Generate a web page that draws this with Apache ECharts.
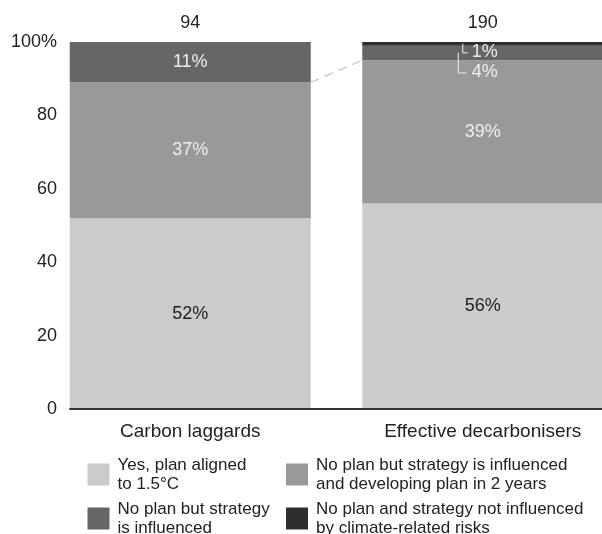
<!DOCTYPE html>
<html>
<head>
<meta charset="utf-8">
<script src="https://cdn.jsdelivr.net/npm/echarts@6/dist/echarts.min.js"></script>
<style>html,body{margin:0;padding:0;background:#fff;}#c{width:602px;height:534px;}</style>
</head>
<body>
<div id="c"></div>
<script>
var categories = ['Carbon laggards', 'Effective decarbonisers'];
var counts = ['94', '190'];
var seriesNames = ['Yes, plan aligned to 1.5°C', 'No plan but strategy is influenced and developing plan in 2 years', 'No plan but strategy is influenced', 'No plan and strategy not influenced by climate-related risks'];
var legendLines = [['Yes, plan aligned', 'to 1.5°C'], ['No plan but strategy is influenced', 'and developing plan in 2 years'], ['No plan but strategy', 'is influenced'], ['No plan and strategy not influenced', 'by climate-related risks']];
var alignedVals = [52, 56];
var developingVals = [37, 39];
var influencedVals = [11, 4];
var notInfluencedVals = [0, 1];
var yTicks = [0, 20, 40, 60, 80, 100];
var colors = ['#cbcbcb', '#999999', '#666666', '#2e2e2e'];

var FONT = 'Liberation Sans, Arial, sans-serif';
var BAR_W = 241;
var chart = echarts.init(document.getElementById('c'), null, {renderer: 'canvas'});

function barSeries(i, vals, labelColor, hideIdx) {
  return {
    name: seriesNames[i], type: 'bar', stack: 'all', xAxisIndex: 0, yAxisIndex: 0,
    barWidth: BAR_W, itemStyle: {color: colors[i]},
    label: {show: true, position: 'inside', formatter: '{c}%', color: labelColor, fontSize: 18, fontFamily: FONT},
    data: vals.map(function (v, k) {
      return hideIdx.indexOf(k) >= 0 ? {value: v, label: {show: false}} : v;
    })
  };
}

function legendFor(i, left, top) {
  return {
    data: [seriesNames[i]], left: left, top: top, padding: 0, selectedMode: false,
    itemWidth: 22, itemHeight: 22, icon: 'rect', orient: 'vertical',
    formatter: function () { return legendLines[i].join('\n'); },
    textStyle: {fontSize: 17, lineHeight: 19, color: '#222', fontFamily: FONT, padding: [0, 0, 6, 3]}
  };
}

var option = {
  animation: false,
  backgroundColor: '#fff',
  textStyle: {fontFamily: FONT},
  grid: [
    {left: 44, width: 585, top: 42, height: 367, outerBoundsMode: 'none', containLabel: false},
    {left: 70, right: 0, top: 42, height: 367, outerBoundsMode: 'none', containLabel: false}
  ],
  legend: [legendFor(0, 87.5, 452.5), legendFor(1, 286, 452.5), legendFor(2, 87.5, 496.5), legendFor(3, 286, 496.5)],
  xAxis: [
    {type: 'category', gridIndex: 0, data: categories, axisLine: {show: false}, axisTick: {show: false},
     axisLabel: {fontSize: 19, color: '#222', margin: 13, fontFamily: FONT}},
    {type: 'category', gridIndex: 0, position: 'top', data: counts, axisLine: {show: false}, axisTick: {show: false},
     axisLabel: {fontSize: 18, color: '#222', margin: 10, fontFamily: FONT}},
    {type: 'category', gridIndex: 1, data: [''], z: 10, axisLine: {show: true, lineStyle: {color: '#333', width: 2}},
     axisTick: {show: false}, axisLabel: {show: false}}
  ],
  yAxis: [
    {type: 'value', gridIndex: 0, min: 0, max: 100, show: false},
    {type: 'value', gridIndex: 1, min: 0, max: 100, interval: 20, axisLine: {show: false}, axisTick: {show: false},
     splitLine: {show: false},
     axisLabel: {fontSize: 18, color: '#222', margin: 13, fontFamily: FONT,
       formatter: function (v) { return v === 100 ? '100%' : String(v); }}}
  ],
  series: [
    barSeries(0, alignedVals, '#222', []),
    barSeries(1, developingVals, '#eeeeee', []),
    barSeries(2, influencedVals, '#eeeeee', [1]),
    barSeries(3, notInfluencedVals, '#eeeeee', [0, 1]),
    {
      type: 'custom', xAxisIndex: 0, yAxisIndex: 0, silent: true, z: 5,
      data: [[0]],
      renderItem: function (params, api) {
        var topDev0 = alignedVals[0] + developingVals[0];
        var topDev1 = alignedVals[1] + developingVals[1];
        var p1 = api.coord([0, topDev0]);
        var p2 = api.coord([1, topDev1]);
        var ymid1 = api.coord([1, topDev1 + influencedVals[1] + notInfluencedVals[1] / 2]);
        var ymid2 = api.coord([1, topDev1 + influencedVals[1] / 2]);
        var cx = p2[0];
        var children = [
          {type: 'line', shape: {x1: p1[0] + BAR_W / 2, y1: p1[1], x2: p2[0] - BAR_W / 2, y2: p2[1]},
           style: {stroke: '#cccccc', lineWidth: 1.5, lineDash: [9, 6]}},
          {type: 'polyline', shape: {points: [[cx - 20, ymid1[1]], [cx - 20, ymid1[1] + 9], [cx - 15, ymid1[1] + 9]]},
           style: {stroke: '#eeeeee', lineWidth: 1, fill: null}},
          {type: 'text', x: cx - 11, y: ymid1[1] + 8,
           style: {text: notInfluencedVals[1] + '%', fill: '#eeeeee', fontSize: 18, fontFamily: FONT, verticalAlign: 'middle', align: 'left'}},
          {type: 'polyline', shape: {points: [[cx - 24.5, ymid2[1]], [cx - 24.5, ymid2[1] + 20], [cx - 16, ymid2[1] + 20]]},
           style: {stroke: '#eeeeee', lineWidth: 1, fill: null}},
          {type: 'text', x: cx - 11, y: ymid2[1] + 19,
           style: {text: influencedVals[1] + '%', fill: '#eeeeee', fontSize: 18, fontFamily: FONT, verticalAlign: 'middle', align: 'left'}}
        ];
        return {type: 'group', children: children};
      }
    }
  ]
};
chart.setOption(option);
</script>
</body>
</html>
